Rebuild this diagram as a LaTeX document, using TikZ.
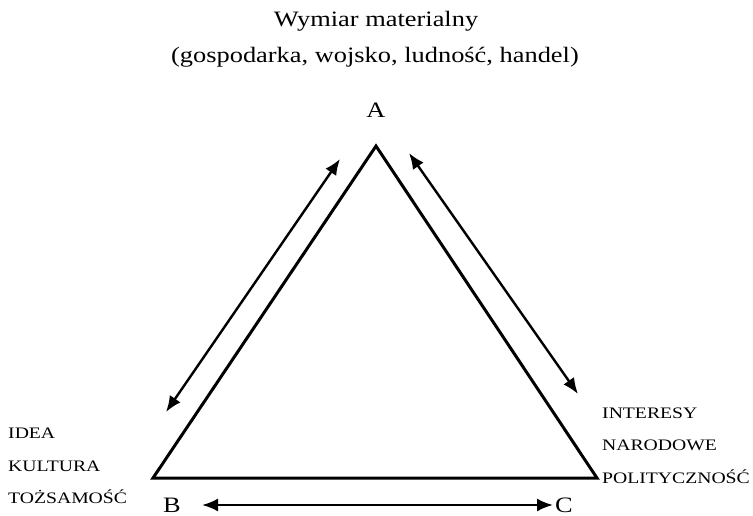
\documentclass[tikz,border=0pt]{standalone}
\usepackage{fontspec}
\setmainfont{Liberation Serif}
\newfontfamily\widefont[FakeStretch=1.2]{Liberation Serif}
\newfontfamily\scfont[FakeStretch=1.23]{Liberation Serif}
\usetikzlibrary{arrows.meta}
\tikzset{
  big/.style={font=\widefont\fontsize{22}{26}\selectfont, inner sep=0pt},
  sc/.style={font=\scfont\fontsize{16}{18}\selectfont, inner sep=0pt, anchor=west},
  edge/.style={line width=3pt, line join=miter},
  rel/.style={line width=2.4pt, {Latex[length=16pt,width=13pt]}-{Latex[length=16pt,width=13pt]}},
}
\begin{document}
\begin{tikzpicture}[x=1pt,y=-1pt]
\useasboundingbox (0,0) rectangle (753,516);
\coordinate (A) at (376,146);
\coordinate (B) at (153,478);
\coordinate (C) at (597,478);
\draw[edge] (A) -- (B) -- (C) -- cycle;
\node[big] (t1) at (376,21) {Wymiar materialny};
\node[big] (t2) at (375,57) {(gospodarka, wojsko, ludność, handel)};
\node[big] (la) at (376,110) {A};
\node[big] (lb) at (172,505) {B};
\node[big] (lc) at (564,505) {C};
\node[sc] (l1) at (8,433) {IDEA};
\node[sc] (l2) at (8,466) {KULTURA};
\node[sc] (l3) at (8,497) {TOŻSAMOŚĆ};
\node[sc] (r1) at (602,413) {INTERESY};
\node[sc] (r2) at (602,445) {NARODOWE};
\node[sc] (r3) at (602,477) {POLITYCZNOŚĆ};
\coordinate (p1) at (166,412);
\coordinate (p2) at (340,159);
\coordinate (q1) at (409,153);
\coordinate (q2) at (578,394);
\coordinate (s1) at (202,505);
\coordinate (s2) at (553,505);
\draw[rel] (p1) -- (p2);
\draw[rel] (q1) -- (q2);
\draw[rel] (s1) -- (s2);
\end{tikzpicture}
\end{document}
